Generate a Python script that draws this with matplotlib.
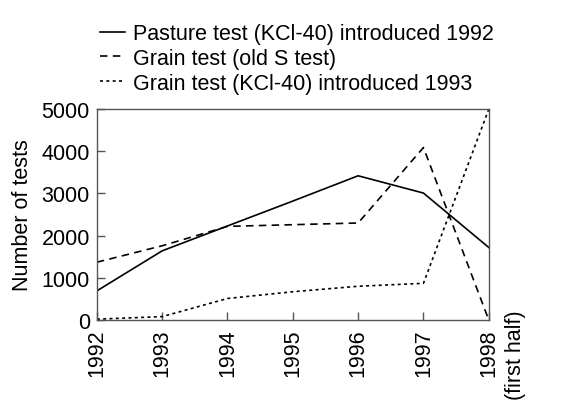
import matplotlib.pyplot as plt

plt.rcParams['font.family'] = ['Liberation Sans', 'DejaVu Sans']

years = [1992, 1993, 1994, 1995, 1996, 1997, 1998]
year_labels = ["1992", "1993", "1994", "1995", "1996", "1997", "1998"]
pasture_kcl = [690, 1640, 2230, 2820, 3420, 3010, 1720]
grain_old_s = [1370, 1760, 2220, 2260, 2300, 4090, 0]
grain_kcl = [20, 80, 510, 670, 800, 870, 5000]

fig = plt.figure(figsize=(5.73, 4.02), dpi=100)
ax = fig.add_axes([0.169, 0.2015, 0.684, 0.5245])

l1, = ax.plot(years, pasture_kcl, color="black", lw=1.2, linestyle="-")
l2, = ax.plot(years, grain_old_s, color="black", lw=1.2, linestyle=(0, (4.5, 3.2)))
l3, = ax.plot(years, grain_kcl, color="black", lw=1.2, linestyle=(0, (1.8, 2)))

ax.set_xlim(1992, 1998)
ax.set_ylim(0, 5000)
ax.set_yticks([0, 1000, 2000, 3000, 4000, 5000])
ax.set_xticks(years)
ax.set_xticklabels(year_labels, rotation=90)
ax.tick_params(direction="in", labelsize=15.5, length=6, width=1, color="#555555")
ax.tick_params(axis="x", pad=6)
ax.tick_params(axis="y", pad=5)
ax.set_ylabel("Number of tests", fontsize=15.5, labelpad=6)
for sp in ax.spines.values():
    sp.set_color("#555555")
    sp.set_linewidth(1)

ax.annotate("(first half)", xy=(1998, 0), xycoords="data", xytext=(19, 8),
            textcoords="offset points", rotation=90, fontsize=15.5,
            ha="center", va="top", annotation_clip=False)

fig.legend([l1, l2, l3],
           ["Pasture test (KCl-40) introduced 1992",
            "Grain test (old S test)",
            "Grain test (KCl-40) introduced 1993"],
           loc="upper left", bbox_to_anchor=(0.1745, 0.94), frameon=False,
           fontsize=15.5, handlelength=1.15, handletextpad=0.37, labelspacing=0.18,
           borderaxespad=0, borderpad=0)

fig.savefig("out.png", dpi=100)
